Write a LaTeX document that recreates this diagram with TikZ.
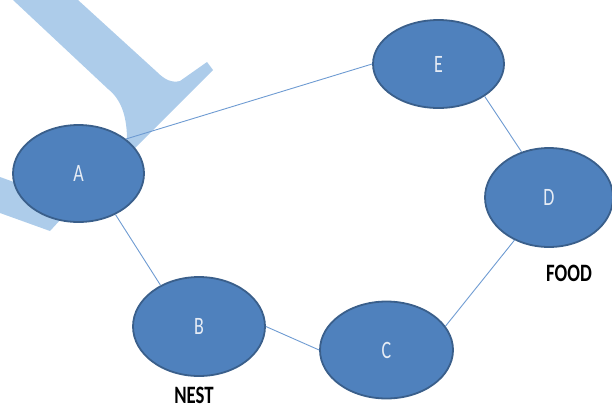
\documentclass[tikz,border=0pt]{standalone}
\usepackage{fontspec}
\usetikzlibrary{shapes.geometric}
\newfontfamily\nodefont[FakeStretch=0.72]{Carlito}
\newfontfamily\capfont[FakeStretch=0.75]{Carlito Bold}
\definecolor{nodefill}{HTML}{4F81BD}
\definecolor{nodeline}{HTML}{3A5F8B}
\definecolor{linkc}{HTML}{6E9BD2}
\definecolor{wm}{HTML}{ADCCEA}
\definecolor{nodetext}{HTML}{E6ECF5}
\begin{document}
\begin{tikzpicture}[x=1pt,y=-1pt,
  blob/.style={ellipse, draw=nodeline, line width=1.8pt, fill=nodefill, inner sep=0pt,
    text=nodetext, font=\nodefont\fontsize{25}{25}\selectfont},
  link/.style={draw=linkc, line width=0.9pt},
  tag/.style={font=\capfont\fontsize{25}{25}\selectfont, text=black, inner sep=0pt,
    text depth=0pt, anchor=base}]
\useasboundingbox (0,0) rectangle (612,410);
% watermark shape
\fill[wm] (13,0) -- (78,0) -- (157,72) .. controls (165,80) and (172,83) .. (180,81)
  -- (207,62) -- (213,70) -- (125,158) -- (127,140)
  .. controls (127,118) and (122,100) .. (108,89) -- cycle;
\fill[wm] (0,177) -- (50,195) -- (62,218) -- (50,231) -- (0,213) -- cycle;
% nodes
\node[blob, minimum width=131pt, minimum height=97pt] (A) at (78.5,173.5) {A};
\node[blob, minimum width=131pt, minimum height=88pt] (E) at (438.5,64) {E};
\node[blob, minimum width=128pt, minimum height=99pt] (D) at (549,197.5) {D};
\node[blob, minimum width=133pt, minimum height=97pt] (C) at (386.5,350) {C};
\node[blob, minimum width=132pt, minimum height=99pt] (B) at (199,326.5) {B};
% connectors
\draw[link] (A.36) -- (E.180);
\draw[link] (E.-35) -- (D.121);
\draw[link] (D.-129) -- (C.22);
\draw[link] (C.180) -- (B.0);
\draw[link] (B.133) -- (A.-48);
% labels
\node[tag] (nest) at (194,403) {NEST};
\node[tag] (food) at (569,281) {FOOD};
\end{tikzpicture}
\end{document}
